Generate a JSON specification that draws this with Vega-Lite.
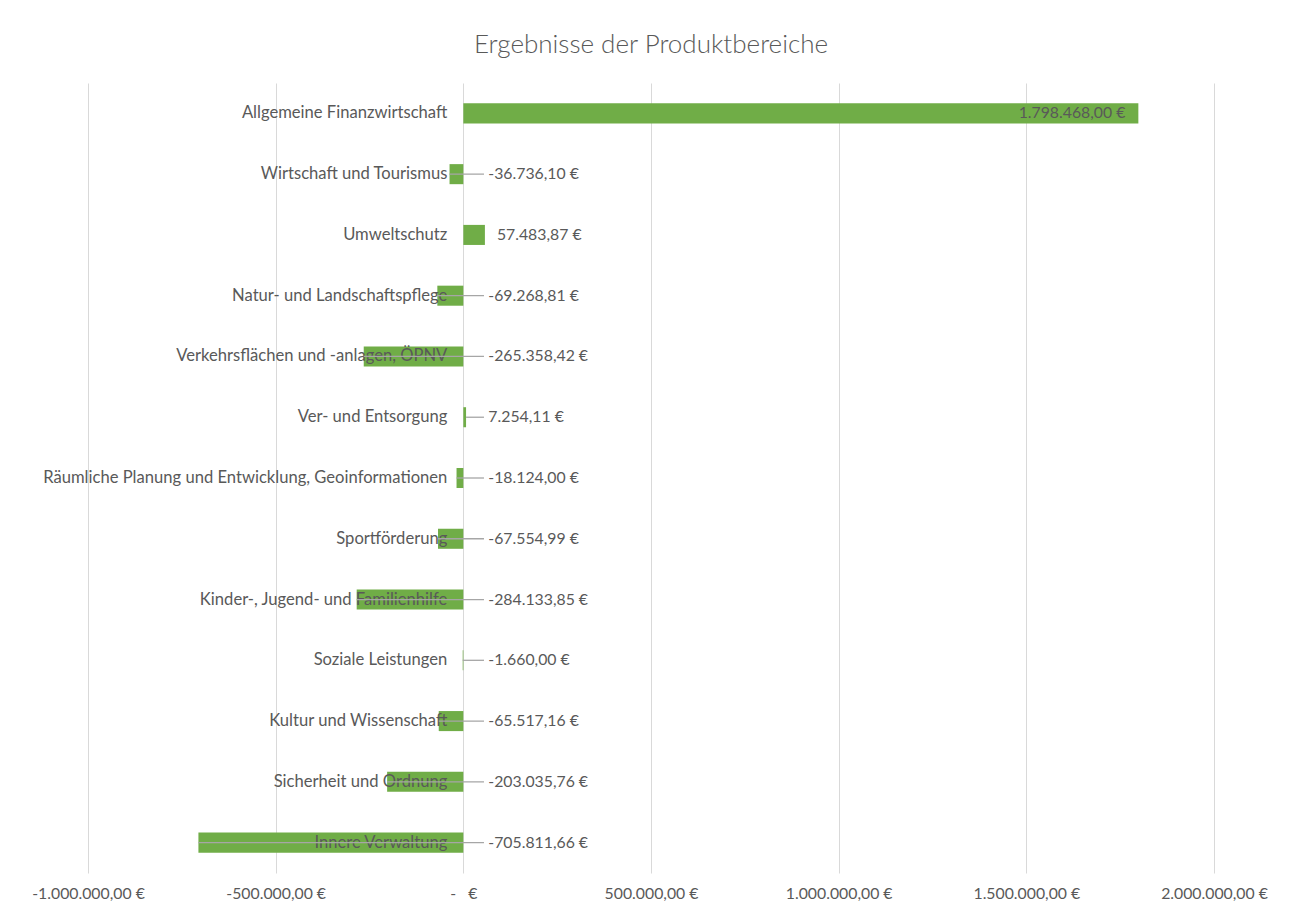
{
  "$schema": "https://vega.github.io/schema/vega-lite/v6.json",
  "width": 1126,
  "height": 790,
  "autosize": {"type": "none"},
  "padding": {"left": 88, "top": 83, "right": 84, "bottom": 40},
  "background": "white",
  "title": {
    "text": "Ergebnisse der Produktbereiche",
    "font": "Lato",
    "fontSize": 26,
    "fontWeight": 300,
    "color": "#595959",
    "anchor": "middle",
    "offset": 25
  },
  "config": {
    "view": {"stroke": null},
    "locale": {
      "number": {"decimal": ",", "thousands": ".", "grouping": [3], "currency": ["", " €"], "minus": "-"}
    },
    "text": {"font": "Lato", "fontSize": 15.8, "color": "#595959"}
  },
  "data": {
    "values": [
      {"bereich": "Allgemeine Finanzwirtschaft", "wert": 1798468.00},
      {"bereich": "Wirtschaft und Tourismus", "wert": -36736.10},
      {"bereich": "Umweltschutz", "wert": 57483.87},
      {"bereich": "Natur- und Landschaftspflege", "wert": -69268.81},
      {"bereich": "Verkehrsflächen und -anlagen, ÖPNV", "wert": -265358.42},
      {"bereich": "Ver- und Entsorgung", "wert": 7254.11},
      {"bereich": "Räumliche Planung und Entwicklung, Geoinformationen", "wert": -18124.00},
      {"bereich": "Sportförderung", "wert": -67554.99},
      {"bereich": "Kinder-, Jugend- und Familienhilfe", "wert": -284133.85},
      {"bereich": "Soziale Leistungen", "wert": -1660.00},
      {"bereich": "Kultur und Wissenschaft", "wert": -65517.16},
      {"bereich": "Sicherheit und Ordnung", "wert": -203035.76},
      {"bereich": "Innere Verwaltung", "wert": -705811.66}
    ]
  },
  "encoding": {
    "y": {
      "field": "bereich",
      "type": "nominal",
      "sort": null,
      "axis": null,
      "scale": {"paddingInner": 0.67, "paddingOuter": 0.335}
    }
  },
  "layer": [
    {
      "mark": {"type": "bar", "color": "#70AD47"},
      "encoding": {
        "x": {
          "field": "wert",
          "type": "quantitative",
          "scale": {"domain": [-1000000, 2000000], "nice": false, "zero": false},
          "axis": {
            "orient": "bottom",
            "title": null,
            "values": [-1000000, -500000, 0, 500000, 1000000, 1500000, 2000000],
            "format": "$,.2f",
            "labelExpr": "datum.value == 0 ? '-\u00a0\u00a0\u00a0€' : datum.label",
            "labelFlush": false,
            "labelOverlap": false,
            "domain": false,
            "ticks": false,
            "grid": true,
            "gridColor": "#D9D9D9",
            "gridWidth": 1,
            "labelFont": "Lato",
            "labelFontSize": 15.8,
            "labelColor": "#595959",
            "labelPadding": 13
          }
        }
      }
    },
    {
      "mark": {"type": "text", "align": "right", "baseline": "middle", "dx": -16, "fontSize": 16.6},
      "encoding": {
        "x": {"datum": 0, "type": "quantitative"},
        "text": {"field": "bereich", "type": "nominal"}
      }
    },
    {
      "transform": [{"filter": "datum.wert < 10000"}],
      "mark": {"type": "rule", "color": "#A6A6A6", "strokeWidth": 1.3},
      "encoding": {
        "x": {"field": "wert", "type": "quantitative"},
        "x2": {"datum": 55000}
      }
    },
    {
      "transform": [{"filter": "datum.wert < 10000"}],
      "mark": {"type": "text", "align": "left", "baseline": "middle", "dx": 25},
      "encoding": {
        "x": {"datum": 0, "type": "quantitative"},
        "text": {"field": "wert", "type": "quantitative", "format": "$,.2f"}
      }
    },
    {
      "transform": [{"filter": "datum.wert >= 10000 && datum.wert < 1000000"}],
      "mark": {"type": "text", "align": "left", "baseline": "middle", "dx": 12},
      "encoding": {
        "x": {"field": "wert", "type": "quantitative"},
        "text": {"field": "wert", "type": "quantitative", "format": "$,.2f"}
      }
    },
    {
      "transform": [{"filter": "datum.wert >= 1000000"}],
      "mark": {"type": "text", "align": "right", "baseline": "middle", "dx": -13},
      "encoding": {
        "x": {"field": "wert", "type": "quantitative"},
        "text": {"field": "wert", "type": "quantitative", "format": "$,.2f"}
      }
    }
  ]
}
